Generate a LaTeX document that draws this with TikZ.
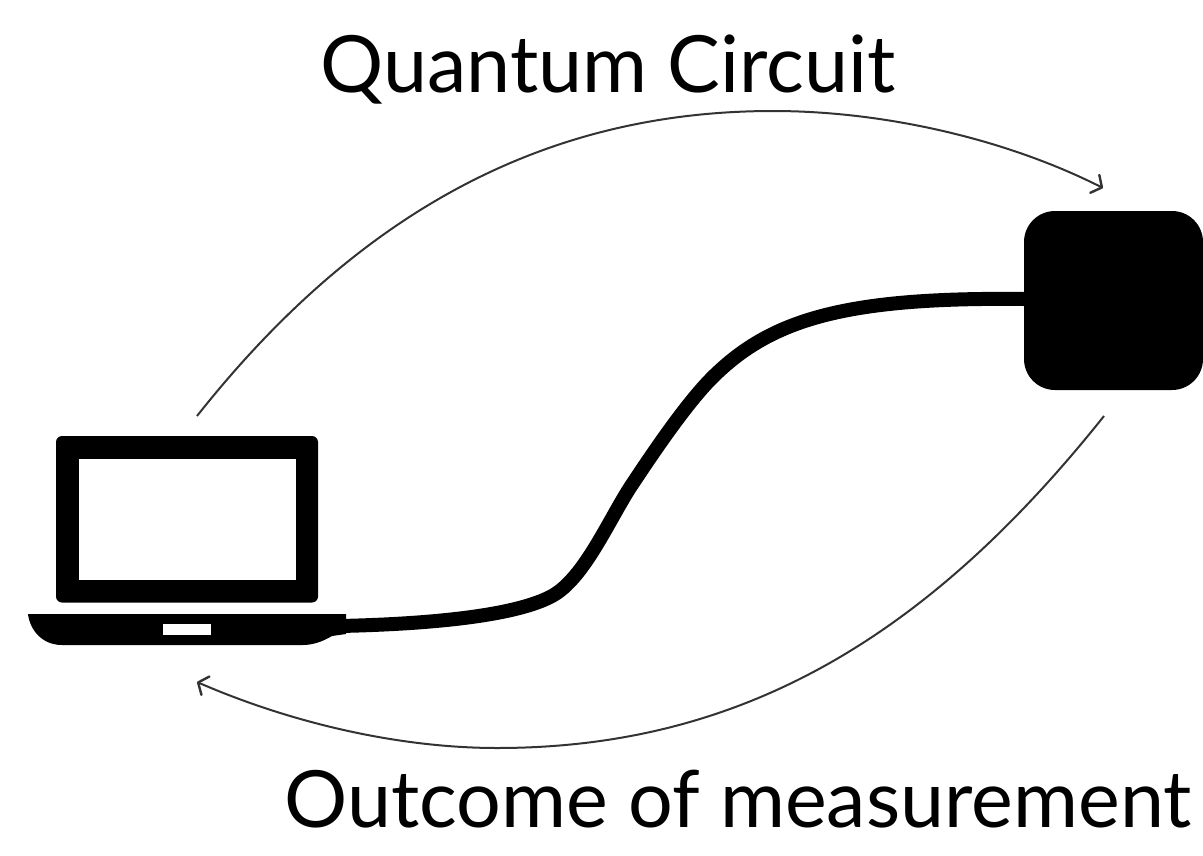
\documentclass[tikz,border=0pt]{standalone}
\usepackage{fontspec}
\setmainfont{Lato}
\usetikzlibrary{arrows.meta}
\definecolor{flowgrey}{HTML}{333333}
\tikzset{
  px/.style={x=1pt,y=-1pt},
  solidbox/.style={fill=black,draw=none,inner sep=0pt,outer sep=0pt},
  hole/.style={fill=white,draw=none,inner sep=0pt,outer sep=0pt},
  flow/.style={draw=flowgrey,line width=2pt,-{Straight Barb[length=8pt,width=20pt,line width=2.4pt,round]}},
  cable/.style={draw=black,line width=14pt},
  bigtext/.style={font=\fontsize{79}{90}\selectfont,inner sep=0pt,anchor=base}
}
\begin{document}
\begin{tikzpicture}[px]
\useasboundingbox (0,0) rectangle (1203,855);
\coordinate (cableL) at (340,626);
\node[solidbox,rounded corners=31pt,minimum width=179pt,minimum height=179pt] (device) at (1113.5,300.5) {};
\draw[cable] (cableL) .. controls (430,624) and (515,616) .. (552,596)
  .. controls (585,578) and (610,517) .. (633,483)
  .. controls (655,450) and (690,398) .. (717,373)
  .. controls (775,318) and (850,297) .. ([yshift=1.5pt]device.west);
\node[solidbox,rounded corners=6pt,minimum width=262pt,minimum height=166.5pt] (screen) at (187,519.25) {};
\node[hole,minimum width=217.5pt,minimum height=120.5pt] (display) at (187.25,519.25) {};
\fill[black] (28,614) -- (346,614) -- (346,634) -- (332,636) .. controls (322,642) and (312,645) .. (303,645)
  -- (62,645) .. controls (42,645) and (30,630) .. (28,614) -- cycle;
\node[hole,minimum width=48pt,minimum height=11pt] (key) at (187,629.5) {};
\coordinate (topS) at (197,416);
\coordinate (topE) at (1103,188);
\coordinate (botS) at (1104,416);
\coordinate (botE) at (197,682);
\draw[flow] (topS) .. controls (364,205) and (553,111) .. (773,111)
  .. controls (883,111) and (1005,138.5) .. (topE);
\draw[flow] (botS) .. controls (924,642) and (737,748) .. (497,748)
  .. controls (397,748) and (289,722) .. (botE);
\node[bigtext] (t1) at (608,92) {Quantum Circuit};
\node[bigtext] (t2) at (738,827.5) {Outcome of measurement};
\end{tikzpicture}
\end{document}
